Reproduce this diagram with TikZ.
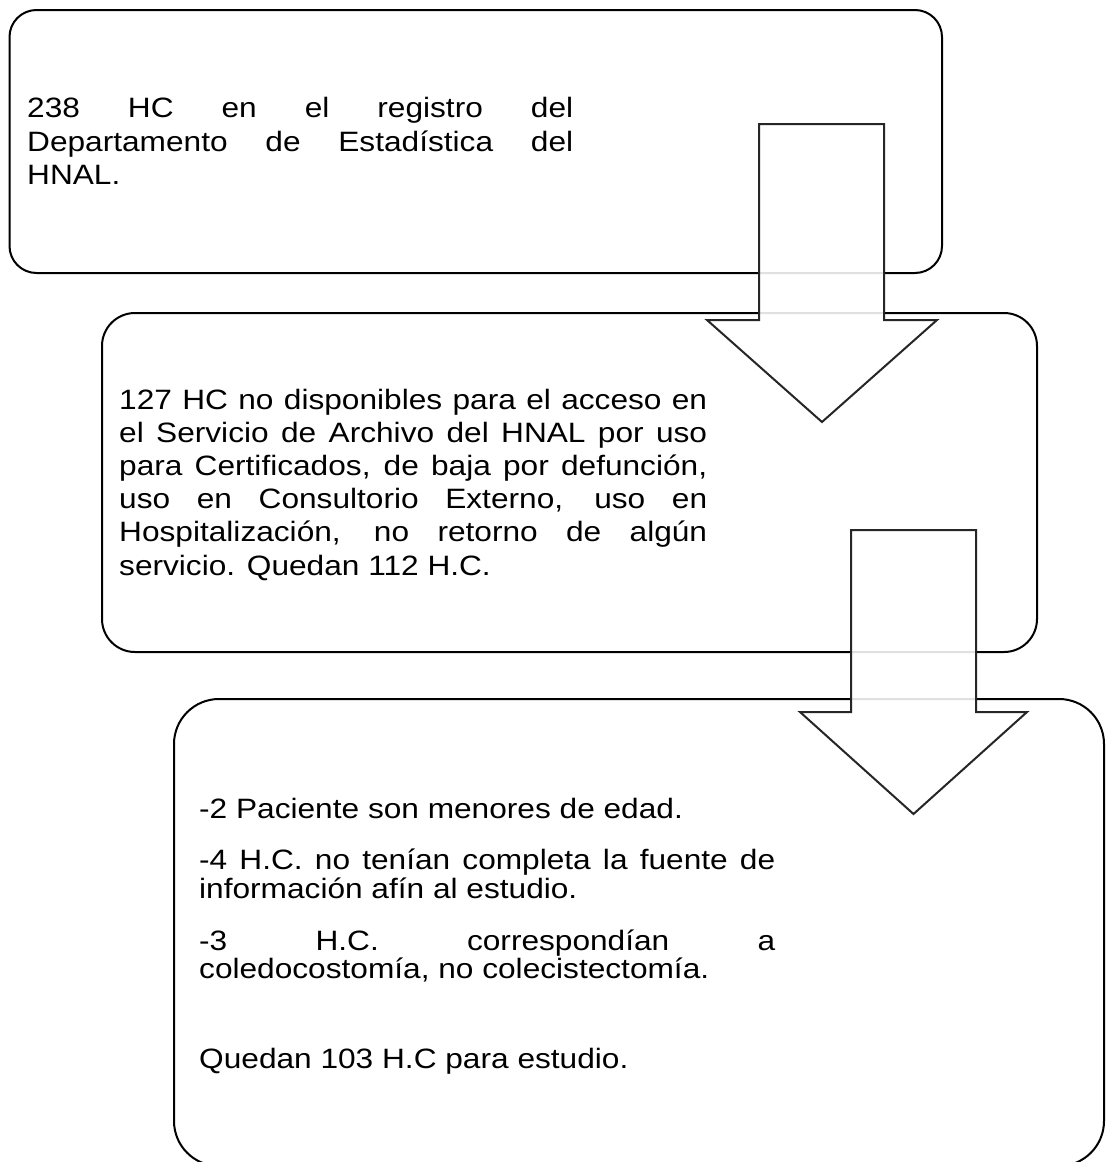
\documentclass[tikz,border=0pt]{standalone}
\usepackage{fontspec}
\setmainfont{Liberation Sans}[FakeStretch=1.13]
\begin{document}
\begin{tikzpicture}[x=1pt,y=-1pt,
  box/.style={draw=black, line width=2pt, fill=white, inner sep=0pt},
  blockarrow/.style={draw=black!85, line width=2pt, fill=white, fill opacity=0.88, line join=miter},
  txt/.style={anchor=base west, inner sep=0pt, font=\fontsize{28}{33}\selectfont}]
\useasboundingbox (0,0) rectangle (1106,1162);
\clip (0,0) rectangle (1106,1162);
% boxes
\node[box, rounded corners=27pt, minimum width=932.5pt, minimum height=263pt] (b1) at (475.75,141.5) {};
\node[box, rounded corners=33pt, minimum width=935pt, minimum height=339pt] (b2) at (569.5,482.5) {};
\node[box, rounded corners=45pt, minimum width=930pt, minimum height=467pt] (b3) at (639,932.5) {};
% texts box 1
\node[txt] (t1a) at (27,117.5) {\makebox[546pt][s]{238 HC en el registro del}};
\node[txt] (t1b) at (27,151) {\makebox[546pt][s]{Departamento de Estadística del}};
\node[txt] (t1c) at (27,184.5) {HNAL.};
% texts box 2
\node[txt] (t2a) at (119,409) {\makebox[588pt][s]{127 HC no disponibles para el acceso en}};
\node[txt] (t2b) at (119,442.2) {\makebox[588pt][s]{el Servicio de Archivo del HNAL por uso}};
\node[txt] (t2c) at (119,475.4) {\makebox[588pt][s]{para Certificados, de baja por defunción,}};
\node[txt] (t2d) at (119,508.6) {\makebox[588pt][s]{uso en Consultorio Externo, uso en}};
\node[txt] (t2e) at (119,541.8) {\makebox[588pt][s]{Hospitalización, no retorno de algún}};
\node[txt] (t2f) at (119,575) {servicio. Quedan 112 H.C.};
% texts box 3
\node[txt] (t3a) at (199,818) {-2 Paciente son menores de edad.};
\node[txt] (t3b) at (199,869) {\makebox[576pt][s]{-4 H.C. no tenían completa la fuente de}};
\node[txt] (t3c) at (199,898.5) {información afín al estudio.};
\node[txt] (t3d) at (199,950) {\makebox[576pt][s]{-3 H.C. correspondían a}};
\node[txt] (t3e) at (199,978) {coledocostomía, no colecistectomía.};
\node[txt] (t3f) at (199,1068) {Quedan 103 H.C para estudio.};
% block arrows
\draw[blockarrow] (759,124) -- (884,124) -- (884,320) -- (937,320) -- (822,422) -- (707,320) -- (759,320) -- cycle;
\draw[blockarrow] (851,530) -- (976,530) -- (976,712) -- (1027,712) -- (913.5,814) -- (800,712) -- (851,712) -- cycle;
\end{tikzpicture}
\end{document}
